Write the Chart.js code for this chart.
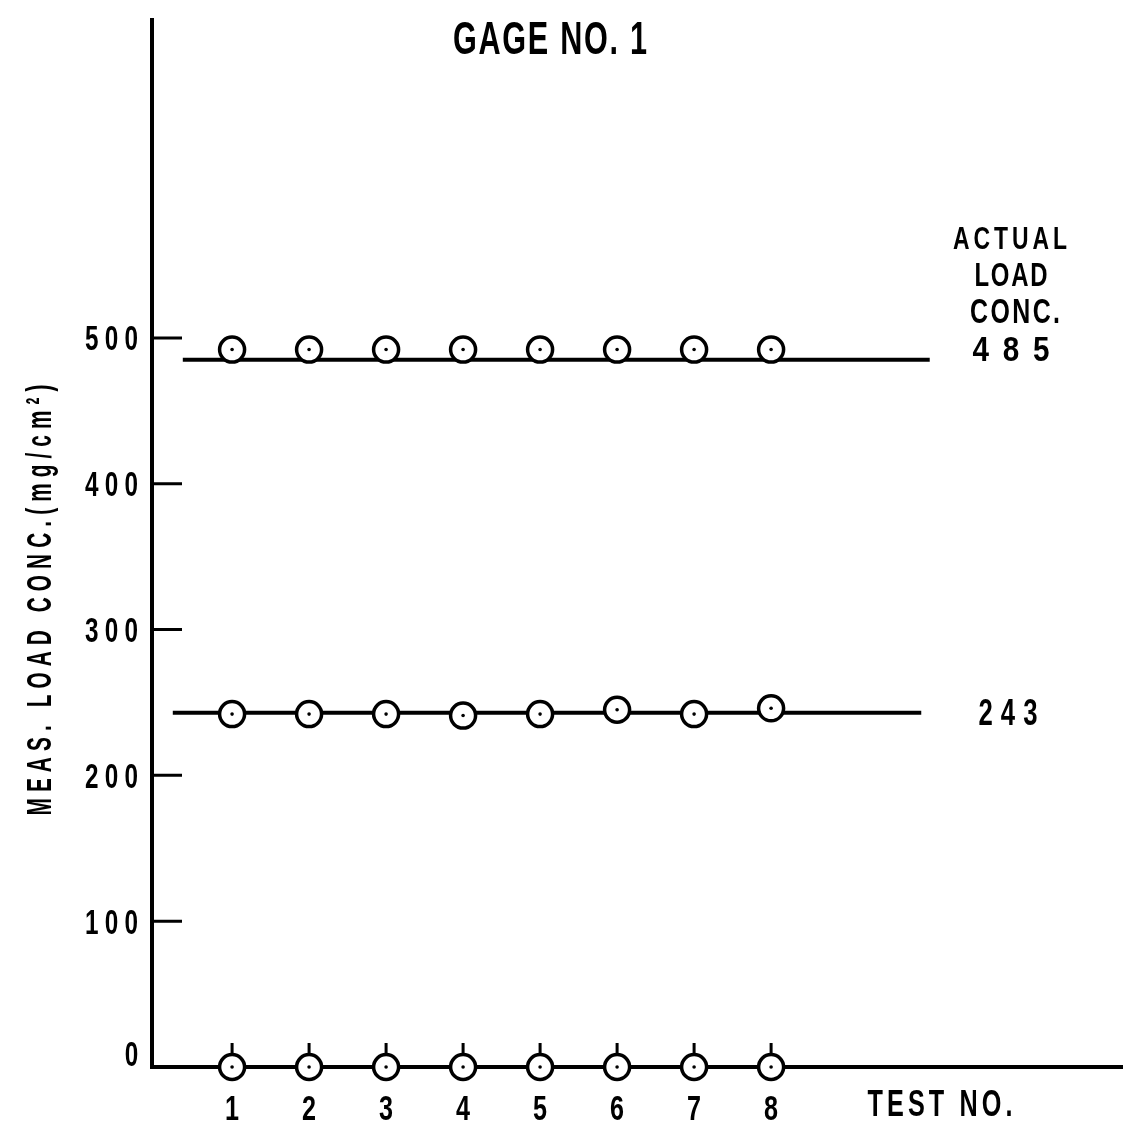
<!DOCTYPE html>
<html>
<head>
<meta charset="utf-8">
<script src="https://cdn.jsdelivr.net/npm/chart.js@4.4.0/dist/chart.umd.min.js"></script>
<style>
  html, body { margin: 0; padding: 0; background: #fff; }
</style>
</head>
<body>
<canvas id="chart" width="1123" height="1128"></canvas>
<script>
'use strict';

// test numbers on the x axis
var testNos = [1, 2, 3, 4, 5, 6, 7, 8];
// measured load concentration, one row per actual load
var meas485 = [492, 492, 492, 492, 492, 492, 492, 492];
var meas243 = [242, 242, 242, 241, 242, 245, 242, 246];
var meas0 = [0, 0, 0, 0, 0, 0, 0, 0];
// actual load lines (value, where the ruled line starts and stops in test units)
var actualLoads = [485, 243];
var actualFrom = [0.36, 0.23];
var actualTo = [10.06, 9.95];
var yTicks = [0, 100, 200, 300, 400, 500];
var yMarks = [100, 200, 300, 400, 500];

var FONT = "'Liberation Sans', 'DejaVu Sans', sans-serif";

function pts(vals) {
    return testNos.map(function (t, i) { return { x: t, y: vals[i] }; });
}

// lettering-guide style text: condensed glyphs spread over a given width
// ratio = glyph width / cap height for the reference glyph
function letter(ctx, text, cx, cy, width, capH, ratio) {
    var size = capH / 0.72;
    ctx.font = 'bold ' + size + 'px ' + FONT;
    var ref = /^[0-9]+$/.test(text) ? '0' : 'N';
    var sx = ratio * capH / ctx.measureText(ref).width;
    var chars = Array.from(text);
    var w = chars.map(function (c) { return ctx.measureText(c).width * sx; });
    var sum = w.reduce(function (a, b) { return a + b; }, 0);
    var gap = chars.length > 1 ? (width - sum) / (chars.length - 1) : 0;
    if (width === 0) { gap = 0; width = sum; }
    var x = cx - width / 2;
    ctx.textAlign = 'left';
    ctx.textBaseline = 'alphabetic';
    chars.forEach(function (c, i) {
        ctx.save();
        ctx.translate(x, cy + capH / 2);
        ctx.scale(sx, 1);
        ctx.fillText(c, 0, 0);
        ctx.restore();
        x += w[i] + gap;
    });
}

var paperMarks = {
    id: 'paperMarks',
    beforeDatasetsDraw: function (chart) {
        var ctx = chart.ctx, xs = chart.scales.x, ys = chart.scales.y;
        ctx.save();
        ctx.strokeStyle = '#000';
        ctx.lineWidth = 3;
        ctx.beginPath();
        yMarks.forEach(function (v) {
            var py = ys.getPixelForValue(v);
            ctx.moveTo(xs.left, py);
            ctx.lineTo(xs.left + 30, py);
        });
        testNos.forEach(function (v) {
            var px = xs.getPixelForValue(v);
            ctx.moveTo(px, ys.bottom);
            ctx.lineTo(px, ys.bottom - 24);
        });
        ctx.stroke();
        ctx.restore();
    },
    afterDraw: function (chart) {
        var ctx = chart.ctx, xs = chart.scales.x, ys = chart.scales.y;
        ctx.save();
        ctx.fillStyle = '#000';

        // tick labels, placed from the scales' own ticks
        ys.ticks.forEach(function (t) {
            var s = String(t.value);
            var wd = s.length * 13 + (s.length - 1) * 7;
            var py = Math.min(ys.getPixelForValue(t.value), ys.bottom - 14);
            letter(ctx, s, xs.left - 14 - wd / 2, py, s.length > 1 ? wd : 0, 25, 0.54);
        });
        xs.ticks.forEach(function (t) {
            letter(ctx, String(t.value), xs.getPixelForValue(t.value), ys.bottom + 40, 0, 25, 0.56);
        });

        letter(ctx, 'GAGE NO. 1', 550, 37, 194, 33, 0.67);
        letter(ctx, 'ACTUAL', 1010, 237, 114, 23, 0.72);
        letter(ctx, 'LOAD', 1011, 274, 73, 24, 0.72);
        letter(ctx, 'CONC.', 1015, 310, 90, 25, 0.72);
        letter(ctx, String(actualLoads[0]), 1011, 348, 77, 25, 0.66);
        letter(ctx, String(actualLoads[1]), 1008, 712, 59, 26, 0.55);
        letter(ctx, 'TEST NO.', 940, 1103, 145, 26, 0.7);
        ctx.translate(38, 600);
        ctx.rotate(-Math.PI / 2);
        letter(ctx, 'MEAS. LOAD CONC.(mg/cm\u00B2)', 0, 0, 431, 25, 0.6);
        ctx.restore();
    }
};

var datasets = [];
actualLoads.forEach(function (v, i) {
    datasets.push({
        type: 'line',
        data: [{ x: actualFrom[i], y: v }, { x: actualTo[i], y: v }],
        borderColor: '#000',
        borderWidth: 4,
        pointRadius: 0,
        showLine: true,
        clip: false,
        order: 3
    });
});
[meas485, meas243, meas0].forEach(function (vals) {
    datasets.push({
        data: pts(vals),
        pointRadius: 12.5,
        pointBorderWidth: 3.5,
        pointBackgroundColor: '#fff',
        pointBorderColor: '#000',
        showLine: false,
        clip: false,
        order: 2
    });
    datasets.push({
        data: pts(vals),
        pointRadius: 1.8,
        pointBorderWidth: 0,
        pointBackgroundColor: '#000',
        showLine: false,
        clip: false,
        order: 1
    });
});

function noPad(s) {
    s.paddingLeft = 0;
    s.paddingRight = 0;
    s.paddingTop = 0;
    s.paddingBottom = 0;
}

new Chart(document.getElementById('chart'), {
    type: 'scatter',
    data: { datasets: datasets },
    options: {
        responsive: false,
        animation: false,
        devicePixelRatio: 1,
        layout: { autoPadding: false, padding: { top: 20, right: 0, left: 0, bottom: 0 } },
        plugins: { legend: { display: false }, tooltip: { enabled: false } },
        scales: {
            x: {
                type: 'linear',
                min: -0.04,
                max: 12.57,
                afterBuildTicks: function (s) {
                    s.ticks = testNos.map(function (v) { return { value: v }; });
                },
                afterFit: function (s) { s.height = 61; noPad(s); },
                grid: { display: false },
                border: { display: true, color: '#000', width: 4 },
                ticks: { display: false }
            },
            y: {
                type: 'linear',
                min: 0,
                max: 718,
                afterBuildTicks: function (s) {
                    s.ticks = yTicks.map(function (v) { return { value: v }; });
                },
                afterFit: function (s) { s.width = 152; noPad(s); },
                grid: { display: false },
                border: { display: true, color: '#000', width: 4 },
                ticks: { display: false }
            }
        }
    },
    plugins: [paperMarks]
});
</script>
</body>
</html>
